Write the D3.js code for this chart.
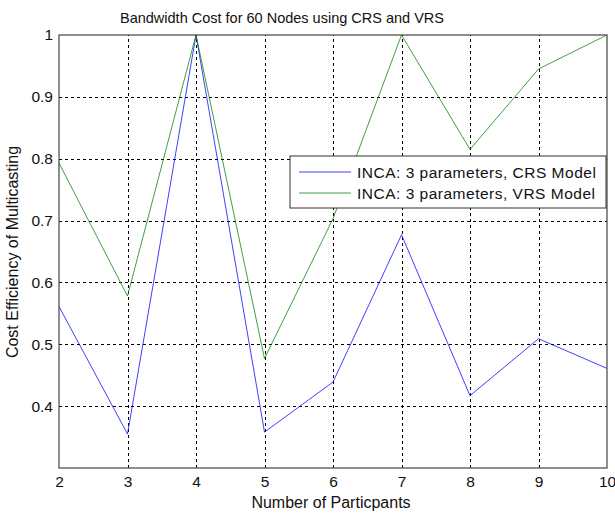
<!DOCTYPE html>
<html>
<head>
<meta charset="utf-8">
<script src="https://cdn.jsdelivr.net/npm/d3@7"></script>
<style>
  body { margin: 0; background: #fff; }
  svg { font-family: "Liberation Sans", Arial, sans-serif; }
</style>
</head>
<body>
<div id="chart"></div>
<script>
// Number of participants on the x axis
const participants = [2, 3, 4, 5, 6, 7, 8, 9, 10];
// Cost efficiency, CRS model
const crsValues = [0.561, 0.355, 1.0, 0.358, 0.439, 0.677, 0.417, 0.509, 0.461];
// Cost efficiency, VRS model
const vrsValues = [0.793, 0.578, 1.0, 0.477, 0.703, 1.0, 0.815, 0.945, 1.0];
const yTicks = [0.4, 0.5, 0.6, 0.7, 0.8, 0.9, 1];
const seriesNames = ["INCA: 3 parameters, CRS Model", "INCA: 3 parameters, VRS Model"];
const seriesColors = ["#0000ff", "#008000"];

const width = 615, height = 513;
const margin = {top: 35, right: 8, bottom: 45, left: 59};

const svg = d3.select("#chart").append("svg")
    .attr("width", width)
    .attr("height", height);

const x = d3.scaleLinear()
    .domain([2, 10])
    .range([margin.left, width - margin.right]);

const y = d3.scaleLinear()
    .domain([0.3, 1])
    .range([height - margin.bottom, margin.top]);

// dashed grid
const grid = svg.append("g")
    .attr("stroke", "#000")
    .attr("stroke-width", 1)
    .attr("stroke-dasharray", "3,3");

grid.selectAll("line.v")
  .data(participants.slice(1, -1))
  .join("line")
    .attr("class", "v")
    .attr("x1", d => Math.round(x(d)) + 0.5)
    .attr("x2", d => Math.round(x(d)) + 0.5)
    .attr("y1", y(0.3))
    .attr("y2", y(1));

grid.selectAll("line.h")
  .data(yTicks.slice(0, -1))
  .join("line")
    .attr("class", "h")
    .attr("y1", d => Math.round(y(d)) + 0.5)
    .attr("y2", d => Math.round(y(d)) + 0.5)
    .attr("x1", x(2))
    .attr("x2", x(10));

// data lines
const line = d3.line()
    .x((d, i) => x(participants[i]))
    .y(d => y(d));

[crsValues, vrsValues].forEach((vals, i) => {
  svg.append("path")
      .datum(vals)
      .attr("fill", "none")
      .attr("stroke", seriesColors[i])
      .attr("stroke-width", 1)
      .attr("stroke-opacity", 0.75)
      .attr("d", line);
});

// axes frame
svg.append("rect")
    .attr("x", x(2))
    .attr("y", y(1))
    .attr("width", x(10) - x(2))
    .attr("height", y(0.3) - y(1))
    .attr("fill", "none")
    .attr("stroke", "#444")
    .attr("stroke-width", 1.2);

const xAxis = svg.append("g")
    .attr("transform", `translate(0,${y(0.3)})`)
    .call(d3.axisBottom(x).tickValues(participants).tickSize(0).tickPadding(8).tickFormat(d3.format("d")));
xAxis.select(".domain").remove();
xAxis.selectAll("text").attr("font-size", 15.5).attr("fill", "#111").attr("font-family", null);

const yAxis = svg.append("g")
    .attr("transform", `translate(${x(2)},0)`)
    .call(d3.axisLeft(y).tickValues(yTicks).tickSize(0).tickPadding(6).tickFormat(d => d === 1 ? "1" : d3.format(".1f")(d)));
yAxis.select(".domain").remove();
yAxis.selectAll("text").attr("font-size", 15.5).attr("fill", "#111").attr("font-family", null);

// title and axis labels
svg.append("text")
    .attr("x", 282)
    .attr("y", 23)
    .attr("text-anchor", "middle")
    .attr("font-size", 14.5)
    .attr("fill", "#111")
    .text("Bandwidth Cost for 60 Nodes using CRS and VRS");

svg.append("text")
    .attr("x", 331)
    .attr("y", 508)
    .attr("text-anchor", "middle")
    .attr("font-size", 16)
    .attr("fill", "#111")
    .text("Number of Particpants");

svg.append("text")
    .attr("transform", "translate(18,252) rotate(-90)")
    .attr("text-anchor", "middle")
    .attr("font-size", 16)
    .attr("fill", "#111")
    .text("Cost Efficiency of Multicasting");

// legend
const legend = svg.append("g").attr("transform", "translate(290,156)");
legend.append("rect")
    .attr("width", 316)
    .attr("height", 52)
    .attr("fill", "#fff")
    .attr("stroke", "#333");

seriesNames.forEach((name, i) => {
  const ly = 16 + i * 21;
  legend.append("line")
      .attr("x1", 9).attr("x2", 61)
      .attr("y1", ly).attr("y2", ly)
      .attr("stroke", seriesColors[i])
      .attr("stroke-opacity", 0.75);
  legend.append("text")
      .attr("x", 67)
      .attr("y", ly + 5.5)
      .attr("font-size", 15.5)
      .attr("letter-spacing", 0.5)
      .attr("fill", "#111")
      .text(name);
});
</script>
</body>
</html>
